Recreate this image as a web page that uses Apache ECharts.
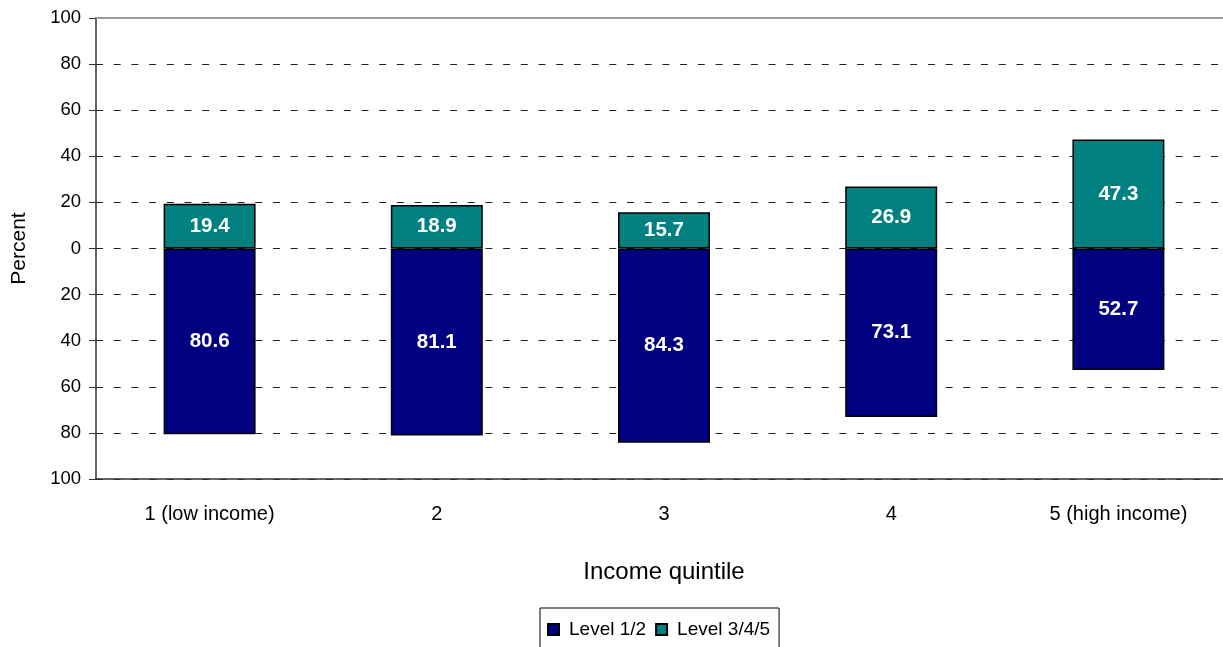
<!DOCTYPE html>
<html>
<head>
<meta charset="utf-8">
<style>
  html, body { margin: 0; padding: 0; background: #fff; }
  #chart { width: 1223px; height: 647px; }
</style>
<script src="https://cdn.jsdelivr.net/npm/echarts@6/dist/echarts.min.js"></script>
</head>
<body>
<div id="chart"></div>
<script>
// Literacy level shares by income quintile (percent)
const categories = ['1 (low income)', '2', '3', '4', '5 (high income)'];
const level12 = [80.6, 81.1, 84.3, 73.1, 52.7];   // drawn below zero
const level345 = [19.4, 18.9, 15.7, 26.9, 47.3];  // drawn above zero

const FONT = '"Liberation Sans", Arial, sans-serif';

const chart = echarts.init(document.getElementById('chart'));
chart.setOption({
  animation: false,
  textStyle: { fontFamily: FONT },
  grid: { left: 96, top: 18, width: 1136, height: 461,
          containLabel: false, outerBoundsMode: 'none',
          show: false },
  legend: {
    left: 540, top: 608,
    padding: [12, 9, 12, 7],
    borderColor: '#000', borderWidth: 1,
    itemWidth: 11, itemHeight: 11, itemGap: 9,
    icon: 'rect',
    textStyle: { fontFamily: FONT, fontSize: 19, color: '#000', padding: [0, 0, 0, 5] },
    data: ['Level 1/2', 'Level 3/4/5']
  },
  xAxis: {
    type: 'category',
    data: categories,
    position: 'bottom',
    name: 'Income quintile',
    nameLocation: 'middle',
    nameGap: 81,
    nameTextStyle: { fontFamily: FONT, fontSize: 24, color: '#000' },
    axisLine: { onZero: false, lineStyle: { color: '#333', width: 1.5 } },
    axisTick: { alignWithLabel: false, length: 6, lineStyle: { color: '#666' } },
    axisLabel: { fontFamily: FONT, fontSize: 20, color: '#000', margin: 25 }
  },
  yAxis: {
    type: 'value',
    min: -100, max: 100, interval: 20,
    name: 'Percent',
    nameLocation: 'middle',
    nameGap: 66,
    nameTextStyle: { fontFamily: FONT, fontSize: 21, color: '#000' },
    axisLine: { show: true, lineStyle: { color: '#333', width: 1.5 } },
    axisTick: { show: true, length: 7, lineStyle: { color: '#333' } },
    axisLabel: { fontFamily: FONT, fontSize: 18.5, color: '#000', margin: 15,
                 formatter: v => Math.abs(v) },
    splitLine: { show: true, lineStyle: { color: '#222', type: [7, 10.7], width: 1 } }
  },
  series: [
    {
      name: 'Level 1/2',
      type: 'bar',
      stack: 'total',
      barWidth: 92,
      data: level12.map(v => -v),
      itemStyle: { color: '#000080', borderColor: '#000', borderWidth: 1.5 },
      label: { show: true, position: 'inside', color: '#fff', fontSize: 20.5,
               fontWeight: 'bold', fontFamily: FONT,
               formatter: p => Math.abs(p.value).toFixed(1) }
    },
    {
      name: 'Level 3/4/5',
      type: 'bar',
      stack: 'total',
      barWidth: 92,
      data: level345,
      itemStyle: { color: '#008080', borderColor: '#000', borderWidth: 1.5 },
      label: { show: true, position: 'inside', color: '#fff', fontSize: 20.5,
               fontWeight: 'bold', fontFamily: FONT,
               formatter: p => p.value.toFixed(1) },
      // plot-area top border at the axis maximum
      markLine: {
        silent: true, symbol: 'none', label: { show: false },
        lineStyle: { color: '#999', type: 'solid', width: 2 },
        data: [{ yAxis: 100 }]
      }
    }
  ]
});
</script>
</body>
</html>
